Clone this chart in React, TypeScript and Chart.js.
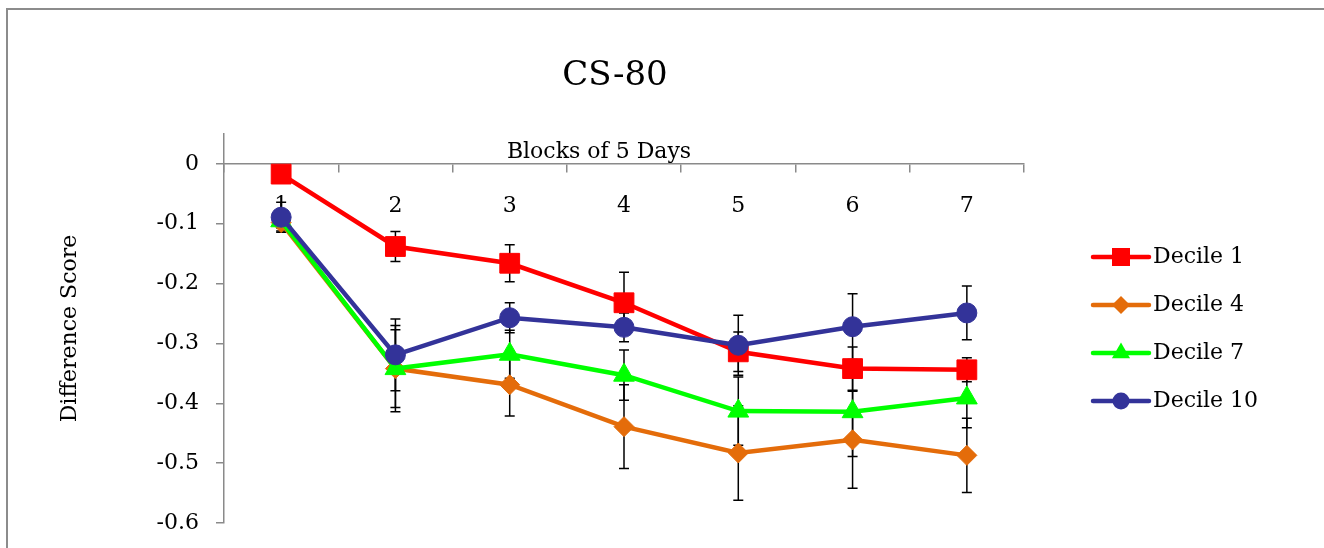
import { useEffect, useRef } from 'react'
import { Chart, registerables } from 'chart.js'

Chart.register(...registerables)

// Blocks of 5 days on the x axis
const blocks = ['1', '2', '3', '4', '5', '6', '7']
const seriesNames = ['Decile 1', 'Decile 4', 'Decile 7', 'Decile 10']

// Difference scores
const decile1 = [-0.017, -0.138, -0.166, -0.232, -0.314, -0.342, -0.344]
const decile4 = [-0.098, -0.342, -0.369, -0.439, -0.483, -0.461, -0.487]
const decile7 = [-0.095, -0.342, -0.318, -0.353, -0.413, -0.414, -0.391]
const decile10 = [-0.089, -0.319, -0.257, -0.273, -0.303, -0.272, -0.249]

// Error bar half lengths (+/-)
const decile1Err = [0.01, 0.025, 0.031, 0.051, 0.033, 0.036, 0.02]
const decile4Err = [0.014, 0.072, 0.052, 0.07, 0.079, 0.081, 0.062]
const decile7Err = [0.012, 0.065, 0.04, 0.042, 0.057, 0.075, 0.05]
const decile10Err = [0.025, 0.06, 0.025, 0.024, 0.05, 0.055, 0.045]

const yTickValues = [0, -0.1, -0.2, -0.3, -0.4, -0.5, -0.6]

const colors = ['#FF0000', '#E46C0A', '#00FF00', '#333399']
const markers = ['rect', 'rectRot', 'triangle', 'circle']
const markerRadius = [14, 10, 12, 10]

const FONT = 'DejaVu Serif'
const AXIS_GREY = '#8a8a8a'

const values = [decile1, decile4, decile7, decile10]
const errors = [decile1Err, decile4Err, decile7Err, decile10Err]

// small legend marker, drawn by hand
const drawMarker = (ctx: CanvasRenderingContext2D, kind: string, cx: number, cy: number) => {
  ctx.beginPath()
  if (kind === 'rect') {
    ctx.rect(cx - 9, cy - 9, 18, 18)
  } else if (kind === 'rectRot') {
    ctx.moveTo(cx, cy - 9)
    ctx.lineTo(cx + 9, cy)
    ctx.lineTo(cx, cy + 9)
    ctx.lineTo(cx - 9, cy)
    ctx.closePath()
  } else if (kind === 'triangle') {
    const r = 10.5
    ctx.moveTo(cx, cy - r)
    ctx.lineTo(cx + r * 0.866, cy + r / 2)
    ctx.lineTo(cx - r * 0.866, cy + r / 2)
    ctx.closePath()
  } else {
    ctx.arc(cx, cy, 8.5, 0, Math.PI * 2)
  }
  ctx.fill()
}

const errorBarsPlugin = {
  id: 'errorBars',
  beforeDatasetsDraw(chart: any) {
    const { ctx } = chart
    const yScale = chart.scales.y
    ctx.save()
    ctx.strokeStyle = '#000'
    ctx.lineWidth = 1.5
    chart.data.datasets.forEach((_: any, i: number) => {
      const meta = chart.getDatasetMeta(i)
      meta.data.forEach((pt: any, j: number) => {
        const v = values[i][j]
        const e = errors[i][j]
        const top = yScale.getPixelForValue(v + e)
        const bottom = yScale.getPixelForValue(v - e)
        ctx.beginPath()
        ctx.moveTo(pt.x, top)
        ctx.lineTo(pt.x, bottom)
        ctx.moveTo(pt.x - 5, top)
        ctx.lineTo(pt.x + 5, top)
        ctx.moveTo(pt.x - 5, bottom)
        ctx.lineTo(pt.x + 5, bottom)
        ctx.stroke()
      })
    })
    ctx.restore()
  },
}

const decorPlugin = {
  id: 'decor',
  beforeDraw(chart: any) {
    const { ctx, chartArea } = chart
    ctx.save()
    // outer chart frame
    ctx.strokeStyle = '#8c8c8c'
    ctx.lineWidth = 2
    ctx.beginPath()
    ctx.moveTo(7, chart.height)
    ctx.lineTo(7, 9)
    ctx.lineTo(chart.width, 9)
    ctx.stroke()

    ctx.fillStyle = '#000'
    ctx.textAlign = 'center'
    ctx.textBaseline = 'alphabetic'
    ctx.font = `34px "${FONT}"`
    ctx.fillText('CS-80', chartArea.left + 391, 85)

    const y0 = chart.scales.y.getPixelForValue(0)
    ctx.font = `22px "${FONT}"`
    ctx.fillText('Blocks of 5 Days', chartArea.left + 375, y0 - 6)
    ctx.restore()
  },
  afterDraw(chart: any) {
    const { ctx, chartArea } = chart
    ctx.save()
    ctx.font = `22px "${FONT}"`
    ctx.textBaseline = 'middle'
    ctx.textAlign = 'left'
    seriesNames.forEach((name, i) => {
      const cy = chartArea.top + 123 + i * 48
      const x0 = chartArea.right + 69
      ctx.strokeStyle = colors[i]
      ctx.lineWidth = 4.5
      ctx.lineCap = 'round'
      ctx.beginPath()
      ctx.moveTo(x0, cy)
      ctx.lineTo(x0 + 56, cy)
      ctx.stroke()
      ctx.fillStyle = colors[i]
      drawMarker(ctx, markers[i], x0 + 28, cy)
      ctx.fillStyle = '#000'
      ctx.fillText(name, x0 + 60, cy)
    })
    ctx.restore()
  },
}

const App = () => {
  const chartRef = useRef<HTMLCanvasElement | null>(null)

  useEffect(() => {
    document.body.style.margin = '0'
    const ctx = chartRef.current?.getContext('2d')
    if (!ctx) return

    const datasets = seriesNames.map((name, i) => ({
      label: name,
      data: values[i],
      borderColor: colors[i],
      backgroundColor: colors[i],
      borderWidth: 4.5,
      pointStyle: markers[i],
      pointRadius: markerRadius[i],
      pointBorderWidth: 1,
      pointBorderColor: colors[i],
      pointBackgroundColor: colors[i],
      tension: 0,
      order: seriesNames.length - i,
    }))

    const chart = new Chart(ctx, {
      type: 'line',
      data: { labels: blocks, datasets },
      plugins: [errorBarsPlugin, decorPlugin],
      options: {
        responsive: true,
        maintainAspectRatio: false,
        animation: false,
        layout: { padding: { left: 53, right: 300, top: 134, bottom: 25 } },
        plugins: {
          legend: { display: false },
          title: { display: false },
          tooltip: { enabled: false },
        },
        scales: {
          x: {
            type: 'category',
            position: { y: 0 } as any,
            offset: true,
            grid: {
              offset: true,
              drawOnChartArea: false,
              tickLength: 8,
              color: AXIS_GREY,
              lineWidth: 1.5,
            },
            border: { color: AXIS_GREY, width: 1.5 },
            ticks: {
              padding: 21,
              color: '#000',
              font: { family: FONT, size: 22 },
              maxRotation: 0,
            },
          },
          y: {
            type: 'linear',
            position: 'left',
            min: -0.6,
            max: 0.05,
            afterBuildTicks: (scale: any) => {
              scale.ticks = yTickValues.map((v) => ({ value: v }))
            },
            afterFit: (scale: any) => {
              scale.width = 171
              scale.paddingTop = 0
              scale.paddingBottom = 0
            },
            grid: {
              drawOnChartArea: false,
              tickLength: 8,
              color: AXIS_GREY,
              lineWidth: 1.5,
            },
            border: { color: AXIS_GREY, width: 1.5 },
            ticks: {
              padding: 17,
              color: '#000',
              font: { family: FONT, size: 22 },
              callback: (value: any) => (Number(value) === 0 ? '0' : Number(value).toFixed(1)),
            },
            title: {
              display: true,
              text: 'Difference Score',
              color: '#000',
              font: { family: FONT, size: 22 },
              padding: { top: 4, bottom: 4 },
            },
          },
        },
      },
    })

    return () => {
      chart.destroy()
    }
  }, [])

  return (
    <div style={{ position: 'relative', width: 1324, height: 548 }}>
      <canvas ref={chartRef} />
    </div>
  )
}

export default App
